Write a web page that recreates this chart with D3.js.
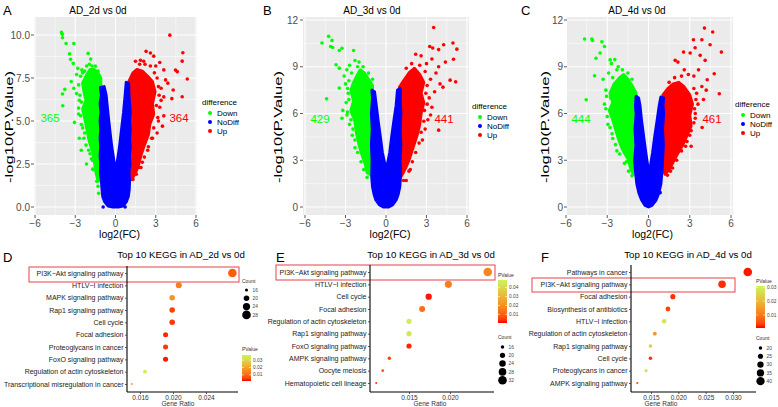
<!DOCTYPE html>
<html><head><meta charset="utf-8">
<script src="https://cdn.jsdelivr.net/npm/d3@7"></script>
<style>body{margin:0;background:#fff}svg{display:block}text{font-family:"Liberation Sans",Arial,Helvetica,sans-serif}</style>
</head><body><svg id="c" width="778" height="407"></svg>
<script>
// ---------------- DATA ----------------
const volcanoTitles = ["AD_2d vs 0d", "AD_3d vs 0d", "AD_4d vs 0d"];
const volcanoLetters = ["A", "B", "C"];
const downCounts = [365, 429, 444];
const upCounts = [364, 441, 461];
const diffLevels = ["Down", "NoDiff", "Up"];
const xTicksVolcano = [-6, -3, 0, 3, 6];
const yTicksA = [0, 2.5, 5, 7.5, 10];
const yTicksB = [0, 3, 6, 9, 12];
const yTicksC = [0, 3, 6, 9, 12];

// dense clouds outlined [log2FC, -log10P]; sparse points listed one by one
const blueA = [[-1.12,6.95],[-1.05,6.5],[-1.15,6.0],[-1.08,5.5],[-1.15,5.0],[-1.1,4.5],[-1.15,4.0],[-1.1,3.5],[-1.15,3.0],[-1.1,2.5],[-1.12,2.0],[-1.05,1.5],[-1.0,1.0],[-0.95,0.6],[-0.8,0.3],[-0.55,0.06],[-0.2,0.0],[0.2,0.0],[0.55,0.06],[0.8,0.3],[0.95,0.6],[1.02,1.0],[1.05,1.5],[1.0,2.0],[1.08,2.5],[1.03,3.0],[1.1,3.5],[1.05,4.0],[1.1,4.5],[1.05,5.0],[1.1,5.5],[1.05,6.0],[1.0,6.5],[0.98,7.2],[0.8,7.25],[0.72,6.5],[0.6,5.5],[0.45,4.5],[0.3,3.5],[0.15,2.7],[0.03,2.0],[-0.12,2.7],[-0.28,3.5],[-0.43,4.5],[-0.57,5.5],[-0.7,6.5],[-0.85,7.0]];
const blueAPts = [[-0.92,0.0],[0.72,0.0]];
const greenACore = [[-1.1,7.5],[-1.3,7.8],[-1.6,8.0],[-1.9,8.0],[-2.2,7.6],[-2.45,7.2],[-2.35,6.7],[-2.2,6.2],[-2.45,5.7],[-2.25,5.0],[-2.1,4.4],[-1.95,3.8],[-1.7,3.2],[-1.55,2.5],[-1.45,2.0],[-1.3,1.5],[-1.0,1.6],[-1.0,4.5]];
const greenAPts = [[-4.02,10.15],[-3.97,10.04],[-3.95,9.84],[-3.68,9.51],[-3.11,9.51],[-3.43,8.9],[-3.35,8.59],[-3.15,8.35],[-2.81,8.06],[-2.51,7.97],[-2.04,8.93],[-1.85,8.6],[-1.95,8.3],[-2.9,7.7],[-2.6,7.6],[-3.78,6.84],[-3.95,6.57],[-3.93,5.89],[-3.11,6.9],[-3.06,4.92],[-2.16,2.5],[-2.7,6.2],[-2.6,5.3],[-2.75,5.75],[-2.45,4.6],[-2.35,4.0],[-1.9,3.1],[-1.7,2.7],[-1.3,1.2],[-1.25,0.8],[-2.3,7.9],[-1.5,8.2],[-1.3,7.9],[-2.7,4.0],[-2.9,6.6],[-3.3,7.3],[-2.55,3.3],[-2.75,7.1],[-2.65,6.5],[-2.55,6.1],[-2.75,5.4],[-2.55,4.8],[-2.3,4.3],[-2.2,3.6],[-2.0,3.3],[-1.8,2.8],[-1.7,2.2],[-2.15,8.2],[-2.45,7.8],[-1.75,8.2],[-1.5,2.2],[-1.4,1.5]];
const redACore = [[1.0,7.3],[1.3,7.8],[1.6,8.0],[2.0,7.9],[2.4,7.6],[2.75,7.3],[2.95,6.7],[2.75,6.0],[2.85,5.4],[2.55,4.8],[2.45,4.2],[2.15,3.6],[1.9,3.0],[1.7,2.4],[1.5,2.0],[1.2,1.6],[1.0,2.0]];
const redAPts = [[4.05,9.99],[5.02,8.97],[4.97,8.48],[4.47,7.96],[4.6,7.87],[5.35,7.44],[4.97,6.41],[4.2,6.3],[3.1,4.3],[2.28,9.05],[2.6,8.95],[2.85,8.77],[1.49,8.47],[1.86,8.53],[2.1,8.47],[3.6,7.97],[3.73,7.39],[3.4,6.9],[3.6,6.4],[3.9,7.2],[3.3,5.8],[3.6,5.3],[3.2,5.0],[3.4,6.2],[3.0,8.2],[3.3,8.4],[2.4,3.3],[1.75,2.3],[1.55,1.9],[1.3,1.6],[2.0,2.6],[3.1,7.5],[4.3,6.8],[2.7,4.0],[3.2,7.0],[3.25,6.5],[3.05,5.9],[3.15,5.2],[2.85,4.6],[2.75,4.0],[2.45,3.5],[2.15,2.9],[1.9,2.3],[2.6,8.2],[2.2,8.3],[1.8,8.3],[2.9,7.8],[3.5,4.7]];

const blueB = [[-1.05,7.5],[-1.0,7.0],[-1.08,6.0],[-1.02,5.0],[-1.08,4.0],[-1.03,3.0],[-1.06,2.0],[-1.0,1.3],[-0.88,0.8],[-0.75,0.45],[-0.5,0.15],[-0.2,0.0],[0.2,0.0],[0.5,0.15],[0.75,0.45],[0.9,0.8],[1.02,1.3],[1.08,2.0],[1.04,3.0],[1.1,4.0],[1.05,5.0],[1.1,6.0],[1.05,7.0],[1.06,7.6],[0.85,7.5],[0.75,6.5],[0.58,5.5],[0.42,4.5],[0.28,3.5],[0.12,2.8],[0.02,2.3],[-0.1,2.8],[-0.27,3.5],[-0.42,4.5],[-0.58,5.5],[-0.72,6.5],[-0.85,7.4]];
const blueBPts = [];
const greenBCore = [[-1.0,7.8],[-1.3,8.2],[-1.6,8.6],[-1.9,8.8],[-2.1,8.5],[-2.4,8.0],[-2.6,7.5],[-2.4,6.8],[-2.6,6.2],[-2.3,5.5],[-2.2,4.8],[-2.0,4.0],[-1.8,3.4],[-1.55,2.8],[-1.4,2.2],[-1.0,2.0],[-1.0,4.5]];
const greenBPts = [[-4.74,10.52],[-4.25,10.95],[-4.0,10.69],[-4.1,10.3],[-3.95,10.24],[-3.46,10.04],[-3.26,10.19],[-3.7,9.13],[-3.46,8.91],[-2.4,10.04],[-4.4,6.94],[-3.26,5.7],[-2.89,5.91],[-3.46,7.63],[-2.9,8.8],[-2.7,9.1],[-2.3,9.4],[-2.0,9.3],[-1.7,9.0],[-3.0,7.9],[-2.8,7.3],[-2.95,6.7],[-2.7,5.3],[-2.5,4.6],[-2.3,3.8],[-1.35,2.27],[-1.4,1.9],[-3.1,8.4],[-2.55,8.6],[-2.75,8.1],[-2.85,7.6],[-2.75,6.9],[-2.85,6.1],[-2.6,5.6],[-2.45,5.0],[-2.3,4.3],[-2.1,3.5],[-1.85,2.9],[-1.65,2.4],[-2.1,9.0],[-1.3,8.6],[-1.0,8.2],[-3.2,6.2]];
const redBCore = [[1.0,7.7],[1.3,8.1],[1.7,8.6],[2.1,8.9],[2.5,8.5],[2.8,8.0],[2.6,7.3],[2.8,6.7],[2.6,6.0],[2.5,5.3],[2.3,4.6],[2.0,3.8],[1.7,3.0],[1.45,2.5],[1.15,2.0],[1.0,2.5]];
const redBPts = [[3.53,11.52],[3.24,10.3],[3.46,10.2],[3.9,10.1],[4.27,10.41],[4.96,10.52],[5.25,10.13],[5.0,9.48],[4.75,8.14],[5.16,8.03],[4.22,7.69],[3.9,4.93],[3.7,8.6],[3.9,9.0],[3.4,9.5],[2.6,9.7],[2.2,9.8],[3.0,9.2],[2.9,8.7],[3.3,8.2],[3.6,7.4],[3.2,7.0],[3.4,6.4],[3.1,5.6],[2.9,5.0],[3.3,5.9],[2.7,4.3],[1.5,1.7],[1.3,1.7],[1.8,2.4],[4.0,7.9],[4.4,9.3],[3.05,7.8],[2.95,7.3],[3.05,6.6],[2.85,6.2],[2.8,5.5],[2.6,4.8],[2.45,4.1],[2.2,3.5],[1.95,2.9],[1.7,2.3],[2.5,9.1],[1.9,9.2],[1.5,8.9]];

const blueC = [[-0.9,7.1],[-0.95,6.5],[-0.9,6.0],[-0.98,5.0],[-0.92,4.0],[-1.0,3.0],[-0.95,2.3],[-0.85,1.5],[-0.7,0.9],[-0.5,0.45],[-0.25,0.1],[0.0,0.0],[0.25,0.1],[0.55,0.45],[0.75,0.9],[0.9,1.5],[0.98,2.3],[1.02,3.0],[1.08,4.0],[1.02,5.0],[1.1,6.0],[1.05,6.5],[1.1,7.0],[0.9,7.05],[0.78,6.5],[0.62,5.5],[0.45,4.5],[0.3,3.5],[0.14,2.6],[0.05,2.05],[-0.05,2.6],[-0.2,3.5],[-0.35,4.5],[-0.5,5.5],[-0.62,6.5],[-0.72,7.0]];
const blueCPts = [[0.85,0.92]];
const greenCCore = [[-0.9,7.3],[-1.2,7.8],[-1.5,8.2],[-1.8,8.5],[-2.1,8.3],[-2.5,7.9],[-2.8,7.3],[-2.6,6.7],[-2.85,6.2],[-2.6,5.6],[-2.4,5.0],[-2.2,4.4],[-1.9,3.7],[-1.5,3.1],[-1.3,2.5],[-1.1,2.1],[-0.9,2.8]];
const greenCPts = [[-4.65,10.78],[-4.12,10.78],[-4.07,10.69],[-3.39,10.6],[-3.2,10.3],[-3.52,9.88],[-3.82,9.55],[-2.79,9.44],[-3.92,8.42],[-4.53,6.88],[-2.75,7.0],[-2.45,9.47],[-2.3,8.8],[-2.7,9.2],[-3.1,7.5],[-3.3,8.2],[-2.9,8.6],[-1.9,8.8],[-1.5,8.6],[-3.0,5.8],[-2.8,5.1],[-2.6,4.4],[-2.3,3.6],[-1.6,2.9],[-1.2,2.0],[-3.2,6.6],[-2.2,9.0],[-3.05,7.1],[-3.1,6.3],[-2.95,5.3],[-2.65,4.7],[-2.4,4.0],[-2.1,3.4],[-1.75,2.8],[-1.45,2.3],[-2.6,8.3],[-1.2,8.2]];
const redCCore = [[1.05,7.2],[1.4,7.6],[1.8,7.9],[2.2,8.0],[2.6,7.7],[3.0,7.2],[3.2,6.6],[3.0,5.9],[3.1,5.2],[2.8,4.6],[2.5,4.0],[2.1,3.4],[1.8,2.9],[1.5,2.4],[1.2,2.1],[1.0,2.6]];
const redCPts = [[4.07,11.48],[4.67,11.23],[3.27,10.73],[3.88,10.73],[4.48,10.41],[5.3,9.94],[3.03,9.88],[2.55,9.94],[3.39,10.22],[3.76,9.73],[4.12,9.41],[2.14,9.3],[1.94,9.41],[4.78,8.55],[4.27,8.17],[5.15,7.27],[3.88,7.73],[3.64,8.8],[3.3,8.4],[2.9,8.5],[2.6,8.8],[3.5,7.3],[3.6,6.6],[3.4,6.0],[3.3,5.4],[3.0,4.6],[2.7,3.9],[1.38,2.04],[1.6,2.3],[4.0,6.9],[3.9,5.1],[3.1,3.9],[3.3,7.6],[3.45,6.9],[3.35,6.3],[3.4,5.7],[3.1,4.9],[2.8,4.2],[2.4,3.6],[2.05,3.0],[1.75,2.5],[2.4,8.4],[1.9,8.3],[1.5,8.0],[4.2,7.5]];

// KEGG panels
const keggTitles = ["Top 10 KEGG in AD_2d vs 0d", "Top 10 KEGG in AD_3d vs 0d", "Top 10 KEGG in AD_4d vs 0d"];
const keggLetters = ["D", "E", "F"];

const termsD = ["PI3K\u2212Akt signaling pathway","HTLV\u2212I infection","MAPK signaling pathway","Rap1 signaling pathway","Cell cycle","Focal adhesion","Proteoglycans in cancer","FoxO signaling pathway","Regulation of actin cytoskeleton","Transcriptional misregulation in cancer"];
const ratioD = [0.0272, 0.0207, 0.0199, 0.0199, 0.0199, 0.0191, 0.0191, 0.0191, 0.0166, 0.0150];
const countD = [28, 21, 20, 20, 20, 19, 19, 19, 17, 15];
const pD = [0.008, 0.013, 0.017, 0.005, 0.004, 0.003, 0.004, 0.002, 0.035, 0.019];
const xTicksD = [0.016, 0.020, 0.024];
const countBreaksD = [16, 20, 24, 28];
const pBreaksD = [0.01, 0.02, 0.03];

const termsE = ["PI3K\u2212Akt signaling pathway","HTLV\u2212I infection","Cell cycle","Focal adhesion","Regulation of actin cytoskeleton","Rap1 signaling pathway","FoxO signaling pathway","AMPK signaling pathway","Oocyte meiosis","Hematopoietic cell lineage"];
const ratioE = [0.0246, 0.0198, 0.0174, 0.0166, 0.0150, 0.0150, 0.0150, 0.0126, 0.0118, 0.0110];
const countE = [32, 26, 23, 22, 20, 20, 20, 16, 15, 14];
const pE = [0.018, 0.016, 0.001, 0.013, 0.046, 0.045, 0.002, 0.006, 0.008, 0.003];
const xTicksE = [0.015, 0.020];
const countBreaksE = [16, 20, 24, 28, 32];
const pBreaksE = [0.01, 0.02, 0.03, 0.04];

const termsF = ["Pathways in cancer","PI3K\u2212Akt signaling pathway","Focal adhesion","Biosynthesis of antibiotics","HTLV\u2212I infection","Regulation of actin cytoskeleton","Rap1 signaling pathway","Cell cycle","Proteoglycans in cancer","AMPK signaling pathway"];
const ratioF = [0.0327, 0.0280, 0.0190, 0.0181, 0.0174, 0.0157, 0.0149, 0.0149, 0.0141, 0.0125];
const countF = [42, 36, 25, 24, 23, 21, 20, 20, 19, 17];
const pF = [0.001, 0.002, 0.002, 0.004, 0.028, 0.014, 0.023, 0.002, 0.027, 0.003];
const xTicksF = [0.015, 0.020, 0.025, 0.030];
const countBreaksF = [20, 25, 30, 35, 40];
const pBreaksF = [0.01, 0.02, 0.03];

// ---------------- DRAWING ----------------
const svg = d3.select("#c");
const defs = svg.append("defs");
const colDown = "#00ff00", colNo = "#0000ff", colUp = "#ff0000";
const diffColor = d3.scaleOrdinal().domain(diffLevels).range([colDown, colNo, colUp]);

const volcLayout = [
  {letterX:3, titleX:98, x0:35, x1:196, bx0:34, bx1:197, yMax:10, yPx:35, lblX:30, yTitleX:13, legX:202, legY:105, numL:50, numR:179, numY:122, fmt:".1f"},
  {letterX:263, titleX:372, x0:305, x1:467, bx0:303, bx1:469, yMax:12, yPx:20, lblX:298, yTitleX:282, legX:472, legY:109, numL:320, numR:444, numY:123, fmt:"d"},
  {letterX:521, titleX:637, x0:566, x1:731, bx0:567, bx1:733, yMax:12, yPx:20, lblX:563, yTitleX:549, legX:735, legY:107, numL:581, numR:712, numY:123, fmt:"d"}
];
const volcData = [
  {yTicks:yTicksA, blue:blueA, blueP:blueAPts, gCore:greenACore, gPts:greenAPts, rCore:redACore, rPts:redAPts},
  {yTicks:yTicksB, blue:blueB, blueP:blueBPts, gCore:greenBCore, gPts:greenBPts, rCore:redBCore, rPts:redBPts},
  {yTicks:yTicksC, blue:blueC, blueP:blueCPts, gCore:greenCCore, gPts:greenCPts, rCore:redCCore, rPts:redCPts}
];

function volcano(i) {
  const L = volcLayout[i], D = volcData[i];
  const x = d3.scaleLinear().domain([-6, 6]).range([L.x0, L.x1]);
  const y = d3.scaleLinear().domain([0, L.yMax]).range([207, L.yPx]);
  const top = 17, bot = 215;
  const g = svg.append("g");
  defs.append("clipPath").attr("id", "vclip" + i).append("rect")
    .attr("x", L.bx0).attr("y", top).attr("width", L.bx1 - L.bx0).attr("height", bot - top);
  g.append("rect").attr("x", L.bx0).attr("y", top).attr("width", L.bx1 - L.bx0).attr("height", bot - top).attr("fill", "#ebebeb");
  const yt = D.yTicks;
  const yMinor = yt.slice(1).map((t, k) => (t + yt[k]) / 2);
  const xMinor = xTicksVolcano.slice(1).map((t, k) => (t + xTicksVolcano[k]) / 2);
  g.selectAll(null).data(yMinor).enter().append("line")
    .attr("x1", L.bx0).attr("x2", L.bx1).attr("y1", d => y(d)).attr("y2", d => y(d)).attr("stroke", "#fff").attr("stroke-width", 0.5);
  g.selectAll(null).data(xMinor).enter().append("line")
    .attr("y1", top).attr("y2", bot).attr("x1", d => x(d)).attr("x2", d => x(d)).attr("stroke", "#fff").attr("stroke-width", 0.5);
  g.selectAll(null).data(yt).enter().append("line")
    .attr("x1", L.bx0).attr("x2", L.bx1).attr("y1", d => y(d)).attr("y2", d => y(d)).attr("stroke", "#fff").attr("stroke-width", 1.1);
  g.selectAll(null).data(xTicksVolcano).enter().append("line")
    .attr("y1", top).attr("y2", bot).attr("x1", d => x(d)).attr("x2", d => x(d)).attr("stroke", "#fff").attr("stroke-width", 1.1);

  const pg = g.append("g").attr("clip-path", "url(#vclip" + i + ")");
  const line = d3.line().x(d => x(d[0])).y(d => y(d[1])).curve(d3.curveLinearClosed);
  function core(arr, col) {
    pg.append("path").attr("d", line(arr)).attr("fill", col).attr("stroke", col).attr("stroke-width", 3).attr("stroke-linejoin", "round");
  }
  function pts(arr, col) {
    pg.selectAll(null).data(arr).enter().append("circle")
      .attr("cx", d => x(d[0])).attr("cy", d => y(d[1])).attr("r", 1.8).attr("fill", col);
  }
  core(D.gCore, colDown); pts(D.gPts, colDown);
  core(D.rCore, colUp); pts(D.rPts, colUp);
  core(D.blue, colNo); pts(D.blueP, colNo);

  const fmt = d3.format(L.fmt);
  g.selectAll(null).data(yt).enter().append("line")
    .attr("x1", L.bx0 - 3).attr("x2", L.bx0).attr("y1", d => y(d)).attr("y2", d => y(d)).attr("stroke", "#333").attr("stroke-width", 0.8);
  g.selectAll(null).data(yt).enter().append("text")
    .attr("x", L.lblX).attr("y", d => y(d) + 3.5).attr("text-anchor", "end").attr("font-size", 10).attr("fill", "#4d4d4d").text(d => fmt(d));
  g.selectAll(null).data(xTicksVolcano).enter().append("line")
    .attr("x1", d => x(d)).attr("x2", d => x(d)).attr("y1", bot).attr("y2", bot + 3).attr("stroke", "#333").attr("stroke-width", 0.8);
  g.selectAll(null).data(xTicksVolcano).enter().append("text")
    .attr("x", d => x(d)).attr("y", 227).attr("text-anchor", "middle").attr("font-size", 10).attr("fill", "#4d4d4d").text(d => d3.format("d")(d));
  g.append("text").attr("x", (L.x0 + L.x1) / 2 + 4).attr("y", 237.5).attr("text-anchor", "middle").attr("font-size", 10.5).text("log2(FC)");
  g.append("text").attr("transform", `translate(${L.yTitleX},127) rotate(-90)`).attr("text-anchor", "middle")
    .attr("font-size", 11).attr("textLength", 112).attr("lengthAdjust", "spacingAndGlyphs").text("-log10(P.Value)");
  g.append("text").attr("x", L.titleX).attr("y", 13.5).attr("text-anchor", "middle").attr("font-size", 10).text(volcanoTitles[i]);
  g.append("text").attr("x", L.letterX).attr("y", 15).attr("font-size", 13).text(volcanoLetters[i]);

  g.append("text").attr("x", L.numL).attr("y", L.numY).attr("text-anchor", "middle").attr("font-size", 11.5).attr("fill", colDown).text(downCounts[i]);
  g.append("text").attr("x", L.numR).attr("y", L.numY).attr("text-anchor", "middle").attr("font-size", 11.5).attr("fill", colUp).text(upCounts[i]);

  g.append("text").attr("x", L.legX).attr("y", L.legY).attr("font-size", 8).text("difference");
  const lg = g.selectAll(null).data(diffLevels).enter().append("g")
    .attr("transform", (d, k) => `translate(${L.legX + 8},${L.legY + 8 + k * 9})`);
  lg.append("circle").attr("r", 2).attr("fill", d => diffColor(d));
  lg.append("text").attr("x", 7).attr("y", 3).attr("font-size", 8).text(d => d);
}
[0, 1, 2].forEach(volcano);

const keggLayout = [
  {letterX:3, titleX:181, ax0:127, ax1:238, xd:[0.016,0.024], xr:[140,206], yt:273, yb:384, ay0:266, rect:[29,267,239,282], gx:178,
   pvX:242, pvT:351, b0:381, b1:355, cX:242, cT:283, cY0:290},
  {letterX:276, titleX:431, ax0:370, ax1:494, xd:[0.015,0.020], xr:[409,450], yt:272, yb:383, ay0:265, rect:[276,265,495,280], gx:430,
   pvX:498, pvT:277, b0:323, b1:280, cX:498, cT:339, cY0:347},
  {letterX:541, titleX:688, ax0:631, ax1:756, xd:[0.015,0.030], xr:[651,733], yt:272, yb:383, ay0:265, rect:[532,278,735,292], gx:661,
   pvX:756, pvT:283, b0:328, b1:286, cX:756, cT:340, cY0:348}
];
const keggData = [
  {terms:termsD, ratio:ratioD, count:countD, p:pD, xTicks:xTicksD, cBreaks:countBreaksD, pBreaks:pBreaksD, cDom:[15,28], pDom:[0.0015,0.037]},
  {terms:termsE, ratio:ratioE, count:countE, p:pE, xTicks:xTicksE, cBreaks:countBreaksE, pBreaks:pBreaksE, cDom:[14,32], pDom:[0.0003,0.0485]},
  {terms:termsF, ratio:ratioF, count:countF, p:pF, xTicks:xTicksF, cBreaks:countBreaksF, pBreaks:pBreaksF, cDom:[17,42], pDom:[0.0005,0.031]}
];

function kegg(i) {
  const L = keggLayout[i], K = keggData[i];
  const g = svg.append("g");
  const x = d3.scaleLinear().domain(L.xd).range(L.xr);
  const y = d3.scalePoint().domain(K.terms).range([L.yt, L.yb]);
  const col = d3.scaleLinear().domain(K.pDom).range(["#ff0000", "#c8f55e"]).interpolate(d3.interpolateLab).clamp(true);
  const area = d3.scaleLinear().domain(K.cDom).range([1.0, 18.5]);
  const rad = c => Math.sqrt(Math.max(area(c), 0.5));
  const axisY = 392;

  g.append("rect").attr("x", L.rect[0]).attr("y", L.rect[1]).attr("width", L.rect[2] - L.rect[0]).attr("height", L.rect[3] - L.rect[1])
    .attr("fill", "none").attr("stroke", "#e8434a").attr("stroke-width", 1);

  g.append("line").attr("x1", L.ax0).attr("x2", L.ax0).attr("y1", L.ay0).attr("y2", axisY).attr("stroke", "#000").attr("stroke-width", 1.1);
  g.append("line").attr("x1", L.ax0).attr("x2", L.ax1).attr("y1", axisY).attr("y2", axisY).attr("stroke", "#000").attr("stroke-width", 1.1);

  const ya = g.append("g").attr("transform", `translate(${L.ax0},0)`).call(d3.axisLeft(y).tickSize(2).tickPadding(1.5));
  ya.select(".domain").remove();
  ya.selectAll("text").attr("font-size", 7).attr("fill", "#222").attr("font-family", '"Liberation Sans", Arial, sans-serif');
  ya.selectAll("line").attr("stroke", "#333").attr("stroke-width", 0.8);

  const xa = g.append("g").attr("transform", `translate(0,${axisY})`).call(d3.axisBottom(x).tickValues(K.xTicks).tickFormat(d3.format(".3f")).tickSize(2).tickPadding(1.5));
  xa.select(".domain").remove();
  xa.selectAll("text").attr("font-size", 6.5).attr("fill", "#333").attr("font-family", '"Liberation Sans", Arial, sans-serif');
  xa.selectAll("line").attr("stroke", "#333").attr("stroke-width", 0.8);
  g.append("text").attr("x", L.gx).attr("y", 406).attr("text-anchor", "middle").attr("font-size", 6.5).attr("fill", "#333").text("Gene Ratio");

  const rows = K.terms.map((t, k) => ({t, r: K.ratio[k], c: K.count[k], p: K.p[k]}));
  g.selectAll(null).data(rows).enter().append("circle")
    .attr("cx", d => x(d.r)).attr("cy", d => y(d.t)).attr("r", d => rad(d.c)).attr("fill", d => col(d.p));

  g.append("text").attr("x", L.titleX).attr("y", 258).attr("text-anchor", "middle").attr("font-size", 9.7).text(keggTitles[i]);
  g.append("text").attr("x", L.letterX).attr("y", 262).attr("font-size", 13).text(keggLetters[i]);

  g.append("text").attr("x", L.pvX).attr("y", L.pvT).attr("font-size", 5).attr("fill", "#333").text("PValue");
  const gid = "grad" + i;
  const grad = defs.append("linearGradient").attr("id", gid).attr("x1", 0).attr("x2", 0).attr("y1", 1).attr("y2", 0);
  d3.range(11).forEach(s => {
    const v = K.pDom[0] + (K.pDom[1] - K.pDom[0]) * s / 10;
    grad.append("stop").attr("offset", s / 10).attr("stop-color", col(v));
  });
  g.append("rect").attr("x", L.pvX).attr("y", L.b1).attr("width", 9).attr("height", L.b0 - L.b1).attr("fill", `url(#${gid})`);
  const bar = d3.scaleLinear().domain(K.pDom).range([L.b0, L.b1]);
  g.selectAll(null).data(K.pBreaks).enter().append("text")
    .attr("x", L.pvX + 11).attr("y", d => bar(d) + 1.7).attr("font-size", 4.8).attr("fill", "#444").text(d => d3.format(".2f")(d));
  g.selectAll(null).data(K.pBreaks).enter().append("line")
    .attr("x1", L.pvX).attr("x2", L.pvX + 1.8).attr("y1", d => bar(d)).attr("y2", d => bar(d)).attr("stroke", "#fff").attr("stroke-width", 0.6);
  g.selectAll(null).data(K.pBreaks).enter().append("line")
    .attr("x1", L.pvX + 7.2).attr("x2", L.pvX + 9).attr("y1", d => bar(d)).attr("y2", d => bar(d)).attr("stroke", "#fff").attr("stroke-width", 0.6);

  g.append("text").attr("x", L.cX).attr("y", L.cT).attr("font-size", 5).attr("fill", "#333").text("Count");
  const sl = g.selectAll(null).data(K.cBreaks).enter().append("g")
    .attr("transform", (d, k) => `translate(${L.cX + 4.5},${L.cY0 + k * 8.3})`);
  sl.append("circle").attr("r", d => rad(d)).attr("fill", "#000");
  sl.append("text").attr("x", 6).attr("y", 1.7).attr("font-size", 4.8).attr("fill", "#444").text(d => d);
}
[0, 1, 2].forEach(kegg);
</script></body></html>
